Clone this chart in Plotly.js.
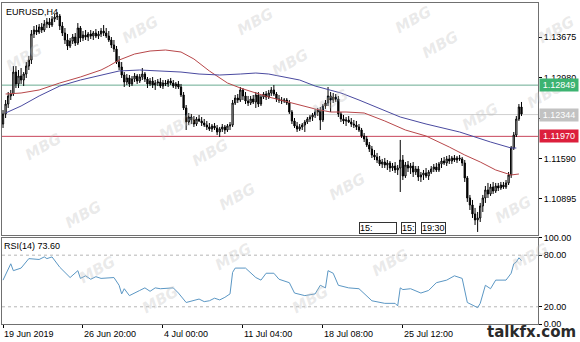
<!DOCTYPE html>
<html><head><meta charset="utf-8">
<script src="https://cdn.plot.ly/plotly-3.0.1.min.js"></script>
<style>html,body{margin:0;padding:0;background:#fff}#chart{width:580px;height:342px}</style>
</head><body><div id="chart"></div>
<script>
// ---- EURUSD H4 OHLC ----
const open=[
1.12182,1.12354,1.12525,1.12663,1.12697,1.13074,1.12869,1.13006,1.12937,1.13040,
1.13177,1.13280,1.13727,1.13795,1.13761,1.13847,1.13795,1.13898,1.13932,1.13881,
1.13984,1.14018,1.14035,1.13864,1.13744,1.13624,1.13521,1.13606,1.13675,1.13572,
1.13830,1.13658,1.13709,1.13675,1.13727,1.13692,1.13744,1.13692,1.13727,1.13778,
1.13744,1.13692,1.13624,1.13538,1.13469,1.13246,1.13160,1.13023,1.12903,1.12972,
1.12869,1.12954,1.13006,1.12920,1.12989,1.13040,1.12954,1.12869,1.12920,1.12851,
1.12886,1.12903,1.12834,1.12886,1.12869,1.12920,1.12886,1.12834,1.12869,1.12817,
1.12680,1.12457,1.12216,1.12302,1.12251,1.12182,1.12268,1.12234,1.12199,1.12165,
1.12131,1.12096,1.12148,1.12114,1.12045,1.12096,1.12131,1.12079,1.12148,1.12165,
1.12543,1.12628,1.12594,1.12766,1.12663,1.12577,1.12543,1.12611,1.12560,1.12680,
1.12525,1.12645,1.12697,1.12645,1.12714,1.12766,1.12697,1.12611,1.12594,1.12577,
1.12594,1.12543,1.12388,1.12234,1.12148,1.12096,1.12131,1.12165,1.12216,1.12268,
1.12302,1.12337,1.12388,1.12422,1.12251,1.12491,1.12543,1.12663,1.12594,1.12645,
1.12611,1.12354,1.12268,1.12234,1.12251,1.12216,1.12182,1.12165,1.12131,1.12079,
1.11976,1.11925,1.11822,1.11753,1.11650,1.11616,1.11564,1.11496,1.11530,1.11479,
1.11513,1.11427,1.11461,1.11393,1.11427,1.11564,1.11290,1.11479,1.11427,1.11461,
1.11358,1.11410,1.11273,1.11307,1.11341,1.11290,1.11358,1.11410,1.11444,1.11393,
1.11496,1.11547,1.11513,1.11582,1.11547,1.11599,1.11564,1.11599,1.11582,1.11513,
1.11256,1.10912,1.10792,1.10638,1.10535,1.10569,1.10775,1.10912,1.11050,1.10981,
1.11101,1.11032,1.11118,1.11084,1.11135,1.11101,1.11170,1.11307,1.11770,1.11993,
1.12268,1.12474];
const high=[
1.12422,1.12594,1.12731,1.12766,1.13177,1.13177,1.13109,1.13143,1.13074,1.13246,
1.13349,1.13795,1.13864,1.13881,1.13898,1.13915,1.13967,1.14001,1.14001,1.14035,
1.14070,1.14104,1.14070,1.13932,1.13830,1.13727,1.13658,1.13727,1.13744,1.13915,
1.13864,1.13778,1.13795,1.13761,1.13795,1.13778,1.13812,1.13778,1.13830,1.13881,
1.13830,1.13778,1.13675,1.13624,1.13521,1.13349,1.13246,1.13074,1.13040,1.13023,
1.13006,1.13057,1.13040,1.13040,1.13143,1.13074,1.12989,1.12972,1.12989,1.12937,
1.12954,1.12972,1.12937,1.12937,1.12954,1.12972,1.12937,1.12903,1.12920,1.12869,
1.12731,1.12508,1.12371,1.12354,1.12319,1.12302,1.12337,1.12302,1.12268,1.12234,
1.12199,1.12182,1.12199,1.12165,1.12131,1.12182,1.12165,1.12182,1.12216,1.12594,
1.12680,1.12697,1.12817,1.12800,1.12731,1.12663,1.12663,1.12680,1.12731,1.12731,
1.12680,1.12731,1.12748,1.12766,1.12817,1.12851,1.12731,1.12680,1.12645,1.12628,
1.12628,1.12594,1.12422,1.12285,1.12216,1.12182,1.12199,1.12251,1.12302,1.12337,
1.12371,1.12440,1.12457,1.12474,1.12525,1.12594,1.12817,1.12731,1.12714,1.12697,
1.12663,1.12388,1.12337,1.12302,1.12319,1.12285,1.12251,1.12234,1.12182,1.12114,
1.12028,1.11976,1.11873,1.11805,1.11736,1.11685,1.11633,1.11582,1.11599,1.11564,
1.11547,1.11513,1.11530,1.11479,1.11908,1.11650,1.11530,1.11547,1.11513,1.11530,
1.11461,1.11461,1.11358,1.11393,1.11427,1.11393,1.11461,1.11496,1.11513,1.11530,
1.11599,1.11616,1.11633,1.11650,1.11633,1.11650,1.11633,1.11650,1.11616,1.11564,
1.11290,1.10964,1.10878,1.10741,1.10672,1.10827,1.10964,1.11118,1.11170,1.11153,
1.11187,1.11170,1.11170,1.11187,1.11187,1.11221,1.11358,1.11805,1.12045,1.12319,
1.12525,1.12560];
const low=[
1.12114,1.12285,1.12457,1.12594,1.12663,1.12800,1.12800,1.12869,1.12834,1.12972,
1.13109,1.13212,1.13658,1.13709,1.13727,1.13744,1.13761,1.13830,1.13830,1.13847,
1.13932,1.13967,1.13795,1.13692,1.13555,1.13452,1.13486,1.13555,1.13521,1.13538,
1.13589,1.13606,1.13624,1.13606,1.13641,1.13624,1.13658,1.13641,1.13675,1.13692,
1.13658,1.13589,1.13486,1.13418,1.13212,1.13109,1.12972,1.12817,1.12851,1.12817,
1.12834,1.12903,1.12869,1.12886,1.12937,1.12903,1.12800,1.12834,1.12800,1.12766,
1.12834,1.12800,1.12783,1.12834,1.12817,1.12851,1.12800,1.12783,1.12783,1.12645,
1.12422,1.12079,1.12165,1.12182,1.12131,1.12148,1.12216,1.12148,1.12131,1.12079,
1.12062,1.12045,1.12079,1.11993,1.11959,1.12045,1.12011,1.12045,1.12079,1.12131,
1.12508,1.12543,1.12560,1.12594,1.12525,1.12491,1.12508,1.12525,1.12457,1.12474,
1.12491,1.12611,1.12594,1.12611,1.12663,1.12663,1.12560,1.12543,1.12525,1.12543,
1.12508,1.12354,1.12182,1.12114,1.12045,1.12062,1.12079,1.12045,1.12182,1.12216,
1.12234,1.12285,1.12319,1.12079,1.12216,1.12440,1.12491,1.12388,1.12543,1.12560,
1.12302,1.12216,1.12182,1.12148,1.12199,1.12131,1.12114,1.12079,1.12045,1.11942,
1.11873,1.11787,1.11702,1.11599,1.11564,1.11513,1.11461,1.11427,1.11427,1.11393,
1.11358,1.11376,1.11341,1.11307,1.11015,1.11221,1.11256,1.11358,1.11324,1.11273,
1.11307,1.11204,1.11187,1.11221,1.11256,1.11221,1.11324,1.11358,1.11358,1.11358,
1.11427,1.11479,1.11461,1.11496,1.11496,1.11530,1.11513,1.11547,1.11461,1.11187,
1.10844,1.10706,1.10569,1.10449,1.10329,1.10500,1.10672,1.10827,1.10912,1.10947,
1.10981,1.10998,1.11032,1.11050,1.11067,1.11067,1.11135,1.11256,1.11736,1.11959,
1.12234,1.12319];
const close=[
1.12354,1.12525,1.12663,1.12697,1.13074,1.12869,1.13006,1.12937,1.13040,1.13177,
1.13280,1.13727,1.13795,1.13761,1.13847,1.13795,1.13898,1.13932,1.13881,1.13984,
1.14018,1.14035,1.13864,1.13744,1.13624,1.13521,1.13606,1.13675,1.13572,1.13830,
1.13658,1.13709,1.13675,1.13727,1.13692,1.13744,1.13692,1.13727,1.13778,1.13744,
1.13692,1.13624,1.13538,1.13469,1.13246,1.13160,1.13023,1.12903,1.12972,1.12869,
1.12954,1.13006,1.12920,1.12989,1.13040,1.12954,1.12869,1.12920,1.12851,1.12886,
1.12903,1.12834,1.12886,1.12869,1.12920,1.12886,1.12834,1.12869,1.12817,1.12680,
1.12457,1.12216,1.12302,1.12251,1.12182,1.12268,1.12234,1.12199,1.12165,1.12131,
1.12096,1.12148,1.12114,1.12045,1.12096,1.12131,1.12079,1.12148,1.12165,1.12543,
1.12628,1.12594,1.12766,1.12663,1.12577,1.12543,1.12611,1.12560,1.12680,1.12525,
1.12645,1.12697,1.12645,1.12714,1.12766,1.12697,1.12611,1.12594,1.12577,1.12594,
1.12543,1.12388,1.12234,1.12148,1.12096,1.12131,1.12165,1.12216,1.12268,1.12302,
1.12337,1.12388,1.12422,1.12251,1.12491,1.12543,1.12663,1.12594,1.12645,1.12611,
1.12354,1.12268,1.12234,1.12251,1.12216,1.12182,1.12165,1.12131,1.12079,1.11976,
1.11925,1.11822,1.11753,1.11650,1.11616,1.11564,1.11496,1.11530,1.11479,1.11513,
1.11427,1.11461,1.11393,1.11427,1.11564,1.11290,1.11479,1.11427,1.11461,1.11358,
1.11410,1.11273,1.11307,1.11341,1.11290,1.11358,1.11410,1.11444,1.11393,1.11496,
1.11547,1.11513,1.11582,1.11547,1.11599,1.11564,1.11599,1.11582,1.11513,1.11256,
1.10912,1.10792,1.10638,1.10535,1.10569,1.10775,1.10912,1.11050,1.10981,1.11101,
1.11032,1.11118,1.11084,1.11135,1.11101,1.11170,1.11307,1.11770,1.11993,1.12268,
1.12474,1.12354];

// ---- Moving averages (bar index, price) ----
const maRedIdx=[1,7,14,22,30,38,41,45,51,57,63,69,74,80,87,92,98,103,109,115,121,127,133,140,148,156,164,173,179,185,191,197,200];
const maRedVal=[1.12697,1.12714,1.12766,1.12886,1.12989,1.13109,1.13177,1.13280,1.13383,1.13435,1.13452,1.13418,1.13298,1.13092,1.12886,1.12800,1.12714,1.12645,1.12577,1.12508,1.12440,1.12388,1.12388,1.12371,1.12234,1.12079,1.11976,1.11787,1.11650,1.11530,1.11393,1.11307,1.11324];
const maBlueIdx=[1,7,14,22,30,38,45,53,61,69,76,84,92,98,103,109,115,121,131,138,150,154,164,177,189,197,199];
const maBlueVal=[1.12371,1.12491,1.12663,1.12834,1.12937,1.13023,1.13092,1.13109,1.13092,1.13074,1.13040,1.13023,1.13040,1.13057,1.13040,1.12989,1.12937,1.12834,1.12714,1.12594,1.12371,1.12302,1.12182,1.12045,1.11873,1.11770,1.11770];

// ---- RSI(14) (bar index, value) ----
const rsiIdx=[0,3,4,7,10,14,16,17,19,22,26,29,30,32,34,36,38,43,45,46,47,49,53,55,57,59,61,66,68,71,76,78,80,82,84,86,88,89,90,94,98,100,102,105,107,111,113,117,121,123,125,126,128,130,134,138,143,148,152,153,154,155,158,162,165,168,172,175,178,180,184,185,187,189,191,195,197,198,199,200,201];
const rsiVal=[51,70,62,65,76,75,78,76,78,66,54,62,53,56,52,55,53,54,45,35,41,33,39,42,38,42,41,42,36,25,29,26,27,30,28,31,35,60,65,65,54,51,59,59,52,48,36,33,35,45,42,62,59,45,42,41,27,24,24,21,42,40,41,36,39,48,51,56,53,25,19,24,45,41,51,51,59,70,72,77,73.6];

// ---- levels and labels ----
const levelPrices=[1.12849,1.12344,1.11970];
const levelColors=['#6aab92','#cfcfcf','#c8455a'];
const levelBoxColors=['#3cb371','#c2c2c2','#dc1f3c'];
const priceTicks=[1.10895,1.11590,1.12285,1.12980,1.13675];
const rsiTicks=[0,20,80,100];
const rsiLevels=[20,80];
const timeTickIdx=[0,31,62,93,124,155];
const timeTickText=['19 Jun 2019','26 Jun 20:00','4 Jul 00:00','11 Jul 04:00','18 Jul 08:00','25 Jul 12:00'];

const barIndex=open.map((_,i)=>i);
const FONT='Liberation Sans, Arial, sans-serif';
const AX='#707070';

const traces=[
 {type:'candlestick',x:barIndex,open:open,high:high,low:low,close:close,xaxis:'x2',yaxis:'y',
  increasing:{line:{color:'#000',width:1},fillcolor:'#ffffff'},
  decreasing:{line:{color:'#000',width:1},fillcolor:'#000000'},
  whiskerwidth:0,hoverinfo:'skip',showlegend:false},
 {type:'scatter',mode:'lines',x:maRedIdx,y:maRedVal,xaxis:'x2',yaxis:'y',line:{color:'#b8474a',width:1},hoverinfo:'skip',showlegend:false},
 {type:'scatter',mode:'lines',x:maBlueIdx,y:maBlueVal,xaxis:'x2',yaxis:'y',line:{color:'#4a4aa0',width:1},hoverinfo:'skip',showlegend:false},
 {type:'scatter',mode:'lines',x:rsiIdx,y:rsiVal,xaxis:'x',yaxis:'y2',line:{color:'#5b97c4',width:1},hoverinfo:'skip',showlegend:false}
];

const shapes=[];
levelPrices.forEach((p,k)=>shapes.push({type:'line',xref:'x2 domain',x0:0,x1:1,yref:'y',y0:p,y1:p,line:{color:levelColors[k],width:1},layer:'below'}));
rsiLevels.forEach(v=>shapes.push({type:'line',xref:'x domain',x0:0,x1:1,yref:'y2',y0:v,y1:v,line:{color:'#b5b5b5',width:1,dash:'dot'},layer:'below'}));

const annotations=[];
// faint "MBG" watermarks (pixel positions of the overlay, not data)
const wmPos=[[24,58],[43,147],[83,215],[140,30],[177,127],[210,153],[237,197],[255,22],[290,63],[330,103],[347,187],
 [413,20],[440,45],[480,117],[513,210],[556,30],[545,95],[97,270],[233,257],[390,263],[530,257],[160,300],[310,300]];
wmPos.forEach(p=>annotations.push({xref:'paper',yref:'paper',x:(p[0]-2)/536,y:(324-p[1])/321,xanchor:'center',yanchor:'middle',
  text:'<b><i>MBG</i></b>',textangle:-30,showarrow:false,font:{family:'DejaVu Sans, sans-serif',size:15,color:'rgba(190,190,190,0.32)'}}));
levelPrices.forEach((p,k)=>annotations.push({xref:'paper',x:1,xanchor:'left',xshift:1,yref:'y',y:p,yanchor:'middle',
  text:p.toFixed(5),showarrow:false,bgcolor:levelBoxColors[k],font:{family:FONT,size:9,color:'#fff'},borderpad:1,width:36}));
timeTickIdx.forEach((t,k)=>annotations.push({xref:'x',x:t,xanchor:'left',xshift:-1,yref:'paper',y:0,yanchor:'top',yshift:-3,
  text:timeTickText[k],showarrow:false,font:{family:FONT,size:9,color:'#000'}}));
annotations.push({xref:'paper',x:0,xanchor:'left',xshift:2,yref:'paper',y:1,yanchor:'top',yshift:-2,text:'EURUSD,H4',showarrow:false,font:{family:FONT,size:9,color:'#000'}});
annotations.push({xref:'paper',x:0,xanchor:'left',xshift:0,yref:'paper',y:0.268,yanchor:'top',yshift:-1,text:'RSI(14) 73.60',showarrow:false,font:{family:FONT,size:9,color:'#000'}});
annotations.push({xref:'paper',x:0.7006,xanchor:'center',yref:'paper',y:0.299,yanchor:'middle',text:'15:',align:'left',width:36,showarrow:false,bgcolor:'#fff',bordercolor:'#333',borderwidth:1,borderpad:0,font:{family:FONT,size:9,color:'#000'}});
annotations.push({xref:'paper',x:0.7593,xanchor:'center',yref:'paper',y:0.299,yanchor:'middle',text:'15:',showarrow:false,bgcolor:'#fff',bordercolor:'#333',borderwidth:1,borderpad:0,font:{family:FONT,size:9,color:'#000'}});
annotations.push({xref:'paper',x:0.805,xanchor:'center',yref:'paper',y:0.299,yanchor:'middle',text:'19:30',showarrow:false,bgcolor:'#fff',bordercolor:'#333',borderwidth:1,borderpad:0,font:{family:FONT,size:9,color:'#000'}});
annotations.push({xref:'paper',x:1.074,xanchor:'right',yref:'paper',y:-0.024,yanchor:'middle',text:'<b>talkfx.com</b>',showarrow:false,font:{family:'DejaVu Sans, sans-serif',size:15,color:'#2a2a2a'}});

const layout={
 width:580,height:342,margin:{l:2,r:42,t:3,b:18},
 paper_bgcolor:'#fff',plot_bgcolor:'#fff',
 font:{family:FONT,size:9,color:'#000'},
 showlegend:false,
 xaxis:{domain:[0,1],anchor:'y2',range:[-0.4,207.4],showgrid:false,zeroline:false,
  showline:true,mirror:true,linecolor:AX,linewidth:1,
  tickmode:'array',tickvals:timeTickIdx,showticklabels:false,ticks:'outside',ticklen:3,tickcolor:'#000',
  rangeslider:{visible:false},fixedrange:true},
 xaxis2:{matches:'x',anchor:'y',showgrid:false,zeroline:false,showline:true,mirror:true,linecolor:AX,linewidth:1,
  showticklabels:false,ticks:'',rangeslider:{visible:false},fixedrange:true},
 yaxis:{domain:[0.2773,1],anchor:'x2',side:'right',range:[1.10277,1.14259],showgrid:false,zeroline:false,
  showline:true,mirror:true,linecolor:AX,linewidth:1,
  tickmode:'array',tickvals:priceTicks,ticktext:priceTicks.map(v=>v.toFixed(5)),
  ticks:'outside',ticklen:3,tickcolor:'#000',tickfont:{family:FONT,size:9,color:'#000'},fixedrange:true},
 yaxis2:{domain:[0,0.268],anchor:'x',side:'right',range:[0,100],showgrid:false,zeroline:false,
  showline:true,mirror:true,linecolor:AX,linewidth:1,
  tickmode:'array',tickvals:rsiTicks,ticktext:rsiTicks.map(v=>v.toFixed(2)),
  ticks:'outside',ticklen:3,tickcolor:'#000',tickfont:{family:FONT,size:9,color:'#000'},fixedrange:true},
 shapes:shapes,annotations:annotations
};
Plotly.newPlot('chart',traces,layout,{staticPlot:true,displayModeBar:false});
</script></body></html>
